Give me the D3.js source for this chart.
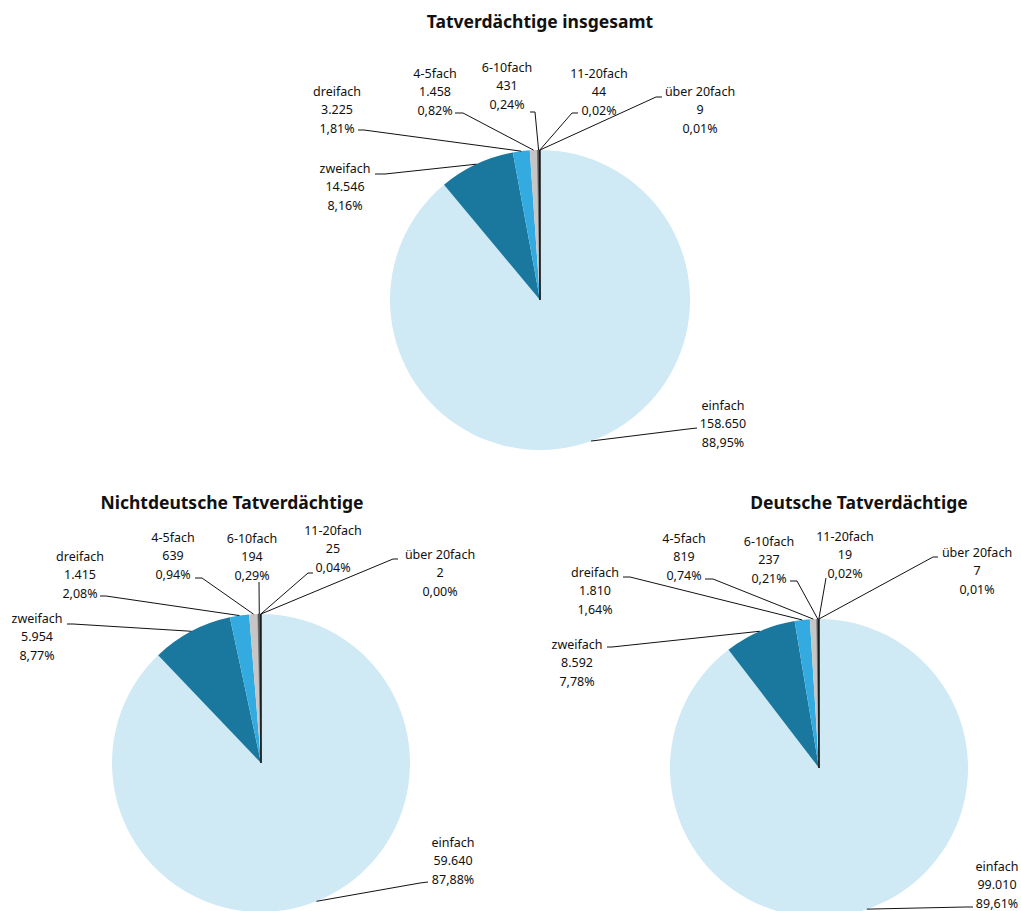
<!DOCTYPE html>
<html>
<head>
<meta charset="utf-8">
<script src="https://cdn.jsdelivr.net/npm/d3@7"></script>
<style>
    body { margin: 0; background: #fff; }
    svg { display: block; font-family: "Noto Sans", "Open Sans", sans-serif; }
</style>
</head>
<body>
<svg id="pies" width="1021" height="911"></svg>
<script>

// categories and values per pie
const categories = ["einfach", "zweifach", "dreifach", "4-5fach", "6-10fach", "11-20fach", "über 20fach"];
const valuesTotal = [158650, 14546, 3225, 1458, 431, 44, 9];
const valuesNonGerman = [59640, 5954, 1415, 639, 194, 25, 2];
const valuesGerman = [99010, 8592, 1810, 819, 237, 19, 7];
const titles = ["Tatverdächtige insgesamt", "Nichtdeutsche Tatverdächtige", "Deutsche Tatverdächtige"];

const colors = ["#cfe9f5", "#1a789e", "#33abe0", "#c6c6c6", "#555555", "#333333", "#000000"];

// layout: pie centre, title position, and label placement relative to centre
// label: [textX, textY(middle line), lineStartX, lineStartY, elbowX, elbowY]
const layouts = [
    {
        cx: 540, cy: 300, r: 150, titleX: 540, titleY: 22,
        labels: [
            [183, 124, 157, 128, 148, 129],
            [-195, -113, -165, -126, -155, -126],
            [-203, -190, -182, -170, -176, -170],
            [-105, -208, -85, -187, -77, -187],
            [-33, -214, -10, -188, -5, -188],
            [59, -208, 38, -187, 32, -187],
            [160, -190, 122, -203, 116, -203]
        ]
    },
    {
        cx: 261, cy: 763, r: 149, titleX: 232, titleY: 503,
        labels: [
            [192, 98, 167, 119, 159, 120],
            [-224, -126, -194, -139, -188, -139],
            [-181, -188, -161, -167, -155, -167],
            [-88, -207, -66, -185, -59, -185],
            [-9, -206, -2, -181, -2, -181],
            [72, -214, 52, -190, 47, -190],
            [179, -190, 137, -204, 132, -204]
        ]
    },
    {
        cx: 819, cy: 768, r: 149, titleX: 859, titleY: 503,
        labels: [
            [178, 117, 154, 139, 146, 139],
            [-242, -105, -212, -121, -207, -121],
            [-224, -177, -196, -191, -189, -191],
            [-135, -211, -114, -189, -106, -189],
            [-50, -208, -29, -187, -22, -187],
            [26, -213, 7, -190, 7, -190],
            [158, -197, 119, -211, 114, -211]
        ]
    }
];

const de = d3.formatLocale({ decimal: ",", thousands: ".", grouping: [3], currency: ["", "€"] });
const fmtNum = de.format(",d");
const fmtPct = de.format(".2%");

const svg = d3.select("#pies");

function drawPie(values, title, lay) {
    const total = d3.sum(values);
    const data = categories.map((c, i) => ({ cat: c, value: values[i], idx: i }));

    const pie = d3.pie().sort(null).value(d => d.value);
    const arcs = pie(data);
    const arc = d3.arc().innerRadius(0).outerRadius(lay.r);

    const g = svg.append("g").attr("transform", `translate(${lay.cx},${lay.cy})`);

    g.selectAll("path.slice")
        .data(arcs)
        .join("path")
        .attr("class", "slice")
        .attr("d", arc)
        .attr("fill", d => colors[d.data.idx])
        .attr("stroke", d => d.data.idx >= 4 ? colors[d.data.idx] : "none")
        .attr("stroke-width", 0.6);

    svg.append("text")
        .attr("x", lay.titleX)
        .attr("y", lay.titleY)
        .attr("dy", "0.35em")
        .attr("text-anchor", "middle")
        .attr("font-weight", "bold")
        .attr("font-size", "17.5px")
        .attr("fill", "#111")
        .text(title);

    // leader lines
    g.selectAll("polyline.leader")
        .data(arcs)
        .join("polyline")
        .attr("class", "leader")
        .attr("fill", "none")
        .attr("stroke", "#111")
        .attr("stroke-width", 1)
        .attr("points", d => {
            const L = lay.labels[d.data.idx];
            const a = (d.startAngle + d.endAngle) / 2;
            const px = lay.r * Math.sin(a), py = -lay.r * Math.cos(a);
            return [[L[2], L[3]], [L[4], L[5]], [px, py]].map(p => p.join(",")).join(" ");
        });

    const lbl = g.selectAll("text.lbl")
        .data(arcs)
        .join("text")
        .attr("class", "lbl")
        .attr("text-anchor", "middle")
        .attr("font-size", "12.5px")
        .attr("fill", "#111");

    lbl.each(function(d) {
        const L = lay.labels[d.data.idx];
        const lines = [d.data.cat, fmtNum(d.data.value), fmtPct(d.data.value / total)];
        d3.select(this).selectAll("tspan")
            .data(lines)
            .join("tspan")
            .attr("x", L[0])
            .attr("y", (t, i) => L[1] + (i - 1) * 18.5)
            .attr("dy", "0.35em")
            .text(t => t);
    });
}

drawPie(valuesTotal, titles[0], layouts[0]);
drawPie(valuesNonGerman, titles[1], layouts[1]);
drawPie(valuesGerman, titles[2], layouts[2]);

</script>
</body>
</html>
